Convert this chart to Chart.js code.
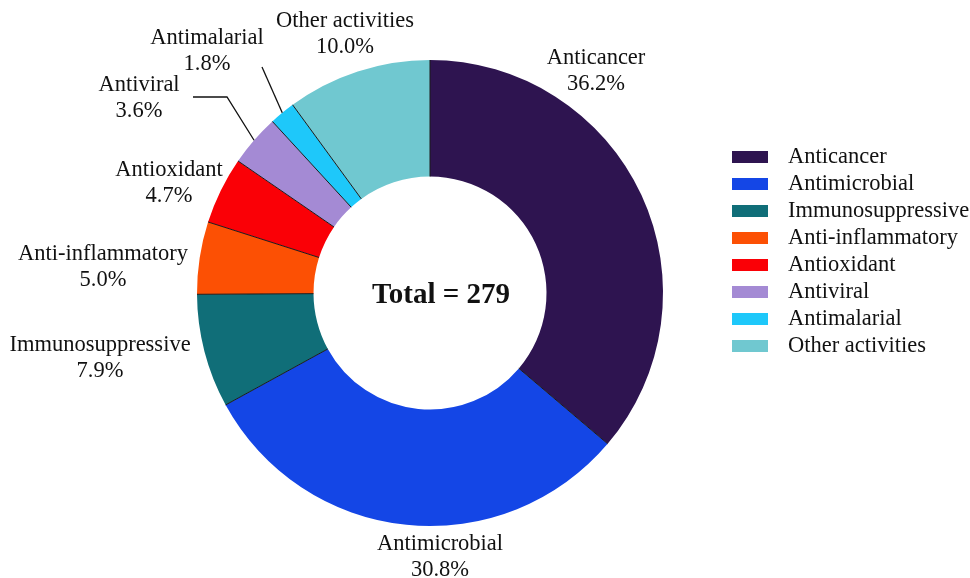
<!DOCTYPE html>
<html lang="en">
<head>
  <meta charset="UTF-8" />
  <title>Activities Doughnut</title>
  <script src="https://cdn.jsdelivr.net/npm/chart.js"></script>
  <style>
    body { margin: 0; background: #fff; }
    #wrap { width: 970px; height: 578px; }
  </style>
</head>
<body>
  <div id="wrap"><canvas id="activityChart" width="970" height="578"></canvas></div>

  <script>
    // Chart data (counts out of 279, percentages as shown on the figure)
    const categories = ["Anticancer", "Antimicrobial", "Immunosuppressive", "Anti-inflammatory",
                        "Antioxidant", "Antiviral", "Antimalarial", "Other activities"];
    const counts = [101, 86, 22, 14, 13, 10, 5, 28];
    const percentLabels = ["36.2%", "30.8%", "7.9%", "5.0%", "4.7%", "3.6%", "1.8%", "10.0%"];
    const totalLabel = "Total = 279";
    const sliceColors = ["#2e1450", "#1446e6", "#106e78", "#fc5004",
                         "#fa0006", "#a48ad4", "#1ec8fa", "#70c8d0"];

    const serif = '"Liberation Serif", "Times New Roman", serif';

    // Where each label sits (text centre of first line) and elbow points for leader lines
    const labelPlaces = [
      { x: 596, y: 58 },
      { x: 440, y: 544 },
      { x: 100, y: 345 },
      { x: 103, y: 254 },
      { x: 169, y: 170 },
      { x: 139, y: 85, line: [[193, 97], [227, 97]] },
      { x: 207, y: 38, line: [[262, 67]] },
      { x: 345, y: 21 }
    ];

    // Thin dark separators between the slices
    const separatorPlugin = {
      id: "separators",
      afterDatasetsDraw(chart) {
        const ctx = chart.ctx;
        const arcs = chart.getDatasetMeta(0).data;
        ctx.save();
        ctx.strokeStyle = "#1a1a1a";
        ctx.lineWidth = 1;
        arcs.forEach(arc => {
          const p = arc.getProps(["x", "y", "startAngle", "innerRadius", "outerRadius"], true);
          const c = Math.cos(p.startAngle), s = Math.sin(p.startAngle);
          ctx.beginPath();
          ctx.moveTo(p.x + c * p.innerRadius, p.y + s * p.innerRadius);
          ctx.lineTo(p.x + c * p.outerRadius, p.y + s * p.outerRadius);
          ctx.stroke();
        });
        ctx.restore();
      }
    };

    // Outside labels, leader lines, centre text and the legend
    const labelPlugin = {
      id: "outsideLabels",
      afterDraw(chart) {
        const ctx = chart.ctx;
        const arcs = chart.getDatasetMeta(0).data;
        ctx.save();
        ctx.fillStyle = "#111";
        ctx.textAlign = "center";
        ctx.textBaseline = "middle";
        ctx.font = "22.5px " + serif;

        arcs.forEach((arc, i) => {
          const place = labelPlaces[i];
          ctx.fillText(categories[i], place.x, place.y);
          ctx.fillText(percentLabels[i], place.x, place.y + 26);

          if (place.line) {
            const p = arc.getProps(["x", "y", "startAngle", "endAngle", "outerRadius"], true);
            const mid = (p.startAngle + p.endAngle) / 2;
            ctx.beginPath();
            ctx.strokeStyle = "#111";
            ctx.lineWidth = 1.3;
            ctx.moveTo(place.line[0][0], place.line[0][1]);
            for (let k = 1; k < place.line.length; k++) ctx.lineTo(place.line[k][0], place.line[k][1]);
            ctx.lineTo(p.x + Math.cos(mid) * p.outerRadius, p.y + Math.sin(mid) * p.outerRadius);
            ctx.stroke();
          }
        });

        // centre total
        const centre = arcs[0];
        ctx.font = "bold 29px " + serif;
        ctx.fillText(totalLabel, centre.x + 11, centre.y + 3);

        // legend on the right
        ctx.textAlign = "left";
        ctx.font = "22.5px " + serif;
        categories.forEach((name, i) => {
          const y = 157 + i * 27;
          ctx.fillStyle = sliceColors[i];
          ctx.fillRect(732, y - 6, 36, 12);
          ctx.fillStyle = "#111";
          ctx.fillText(name, 788, y);
        });
        ctx.restore();
      }
    };

    const ctx = document.getElementById("activityChart").getContext("2d");
    new Chart(ctx, {
      type: "doughnut",
      data: {
        labels: categories,
        datasets: [{
          data: counts,
          backgroundColor: sliceColors,
          borderWidth: 0
        }]
      },
      options: {
        responsive: false,
        animation: false,
        cutout: "50%",
        layout: { padding: { left: 0, right: 110, top: 60, bottom: 52 } },
        plugins: {
          legend: { display: false },
          tooltip: { enabled: false }
        }
      },
      plugins: [separatorPlugin, labelPlugin]
    });
  </script>
</body>
</html>
